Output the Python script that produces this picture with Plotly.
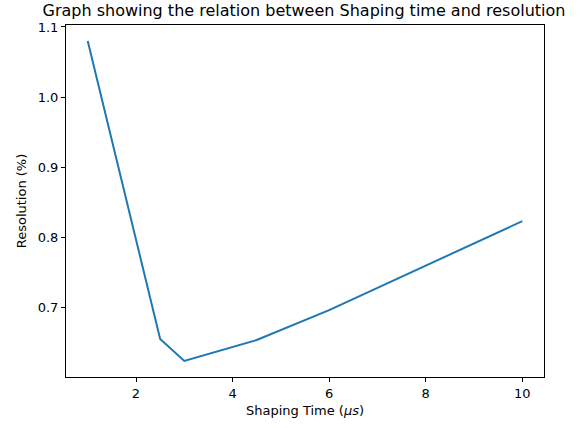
import plotly.graph_objects as go

# Shaping time (microseconds) vs measured energy resolution (%)
shaping_time = [1, 2.5, 3, 4.5, 6, 10]
resolution = [1.080, 0.655, 0.6235, 0.6535, 0.696, 0.823]

x_ticks = [2, 4, 6, 8, 10]
y_ticks = [0.7, 0.8, 0.9, 1.0, 1.1]


def padded(vals, frac=0.05):
    lo, hi = min(vals), max(vals)
    pad = (hi - lo) * frac
    return [lo - pad, hi + pad]


fig = go.Figure(
    go.Scatter(
        x=shaping_time,
        y=resolution,
        mode="lines",
        line=dict(color="#1f77b4", width=2),
    )
)

font = dict(family="DejaVu Sans", size=13, color="black")

axis_common = dict(
    showline=True,
    linecolor="black",
    linewidth=1,
    mirror=True,
    ticks="outside",
    ticklen=4,
    tickwidth=1,
    tickcolor="black",
    showgrid=False,
    zeroline=False,
    tickfont=font,
)

fig.update_xaxes(
    range=padded(shaping_time),
    tickvals=x_ticks,
    ticktext=[str(v) for v in x_ticks],
    title=dict(text="Shaping Time (<i>μs</i>)", font=font, standoff=6),
    **axis_common,
)
fig.update_yaxes(
    range=padded(resolution),
    tickvals=y_ticks,
    ticktext=[f"{v:.1f}" for v in y_ticks],
    title=dict(text="Resolution (%)", font=font, standoff=8),
    **axis_common,
)

fig.update_layout(
    width=583,
    height=428,
    margin=dict(l=66, r=39, t=25, b=48),
    paper_bgcolor="white",
    plot_bgcolor="white",
    showlegend=False,
    title=dict(
        text="Graph showing the relation between Shaping time and resolution",
        font=dict(family="DejaVu Sans", size=16, color="black"),
        x=304 / 583,
        xanchor="center",
        xref="container",
        y=1 - 10.5 / 428,
        yanchor="middle",
        yref="container",
    ),
)

fig.write_html("out.html")
